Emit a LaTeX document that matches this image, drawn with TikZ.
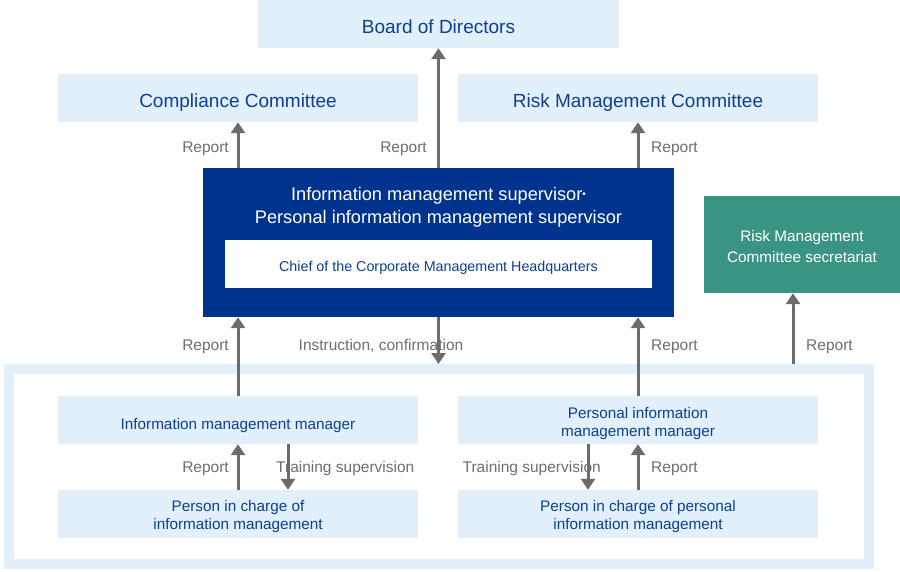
\documentclass[tikz,border=0pt]{standalone}
\usepackage{fontspec}
\setmainfont{Liberation Sans}
\usetikzlibrary{arrows.meta}
\definecolor{lightbox}{HTML}{E1F0FA}
\definecolor{darktext}{HTML}{0D3F93}
\definecolor{mainblue}{HTML}{00338D}
\definecolor{tealbox}{HTML}{3A9482}
\definecolor{arrgray}{HTML}{6B6B6B}
\definecolor{labgray}{HTML}{6E6E6E}
\tikzset{
  lbox/.style={fill=lightbox, draw=none, inner sep=0pt, minimum width=360pt, minimum height=48pt},
  btxt/.style={text=darktext, inner sep=0pt, anchor=base, font=\fontsize{19pt}{22pt}\selectfont},
  stxt/.style={text=darktext, inner sep=0pt, anchor=base, font=\fontsize{15.3pt}{17.7pt}\selectfont},
  arr/.style={draw=arrgray, line width=3pt, -{Triangle[length=11pt,width=14pt]}},
  lab/.style={text=labgray, inner sep=0pt, font=\fontsize{15.5pt}{18pt}\selectfont},
}
\begin{document}
\begin{tikzpicture}[x=1pt,y=-1pt]
\useasboundingbox (0,0) rectangle (900,571);
% outer frame
\draw[lightbox, line width=10pt] (9,369) rectangle (869,564);
% top boxes
\node[lbox, minimum width=361pt] (board) at (438.5,24) {};
\node[btxt] (boardt) at (438.5,33) {Board of Directors};
\node[lbox] (compl) at (238,98) {};
\node[btxt] (complt) at (238,107) {Compliance Committee};
\node[lbox] (risk) at (638,98) {};
\node[btxt] (riskt) at (638,107) {Risk Management Committee};
% main box
\node[fill=mainblue, inner sep=0pt, minimum width=471pt, minimum height=149pt] (main) at (438.5,242.5) {};
\node[text=white, inner sep=0pt, anchor=base, font=\fontsize{18.2pt}{22pt}\selectfont] (maint1) at (438.5,200.5) {Information management supervisor\raisebox{0.35ex}{\fontsize{10pt}{10pt}\selectfont\textbullet}};
\node[text=white, inner sep=0pt, anchor=base, font=\fontsize{18.2pt}{22pt}\selectfont] (maint2) at (438.5,223) {Personal information management supervisor};
\node[fill=white, draw=none, inner sep=0pt, minimum width=427pt, minimum height=48pt] (chief) at (438.5,264) {};
\node[text=darktext, inner sep=0pt, anchor=base, font=\fontsize{14.3pt}{17pt}\selectfont] (chieft) at (438.5,271.7) {Chief of the Corporate Management Headquarters};
% secretariat
\node[fill=tealbox, inner sep=0pt, minimum width=196pt, minimum height=97pt] (sec) at (802,244.5) {};
\node[text=white, inner sep=0pt, anchor=base, font=\fontsize{15.3pt}{18pt}\selectfont] (sect1) at (802,241) {Risk Management};
\node[text=white, inner sep=0pt, anchor=base, font=\fontsize{15.3pt}{18pt}\selectfont] (sect2) at (802,262) {Committee secretariat};
% lower boxes
\node[lbox] (imm) at (238,420) {};
\node[stxt] (immt) at (238,429.3) {Information management manager};
\node[lbox] (pimm) at (638,420) {};
\node[stxt] (pimmt1) at (638,418.3) {Personal information};
\node[stxt] (pimmt2) at (638,436) {management manager};
\node[lbox] (pim) at (238,514) {};
\node[stxt] (pimt1) at (238,511.8) {Person in charge of};
\node[stxt] (pimt2) at (238,529.5) {information management};
\node[lbox] (ppim) at (638,514) {};
\node[stxt] (ppimt1) at (638,511.8) {Person in charge of personal};
\node[stxt] (ppimt2) at (638,529.5) {information management};
% coordinates
\coordinate (frametop) at (438.5,364);
\coordinate (secin) at (793,364);
\coordinate (lt) at (288,444);
\coordinate (rt) at (588,444);
% arrows top
\draw[arr] (main.north -| compl.south) -- (compl.south);
\draw[arr] (main.north) -- (board.south);
\draw[arr] (main.north -| risk.south) -- (risk.south);
% arrows middle
\draw[arr] (imm.north) -- (imm.north |- main.south);
\draw[arr] (main.south) -- (frametop);
\draw[arr] (pimm.north) -- (pimm.north |- main.south);
\draw[arr] (secin) -- (secin |- sec.south);
% arrows inner
\draw[arr] (pim.north) -- (imm.south);
\draw[arr] (lt) -- (lt |- pim.north);
\draw[arr] (rt) -- (rt |- ppim.north);
\draw[arr] (ppim.north) -- (pimm.south);
% labels
\node[lab, anchor=base east] (l1) at (229,152.5) {Report};
\node[lab, anchor=base east] (l2) at (427,152.5) {Report};
\node[lab, anchor=base west] (l3) at (651,152.5) {Report};
\node[lab, anchor=base east] (l4) at (229,350) {Report};
\node[lab, anchor=base] (l5) at (381,350) {Instruction, confirmation};
\node[lab, anchor=base west] (l6) at (651,350) {Report};
\node[lab, anchor=base west] (l7) at (806,350) {Report};
\node[lab, anchor=base east] (l8) at (229,472.5) {Report};
\node[lab, anchor=base west] (l9) at (276,472.5) {Training supervision};
\node[lab, anchor=base east] (l10) at (601,472.5) {Training supervision};
\node[lab, anchor=base west] (l11) at (651,472.5) {Report};
\end{tikzpicture}
\end{document}
